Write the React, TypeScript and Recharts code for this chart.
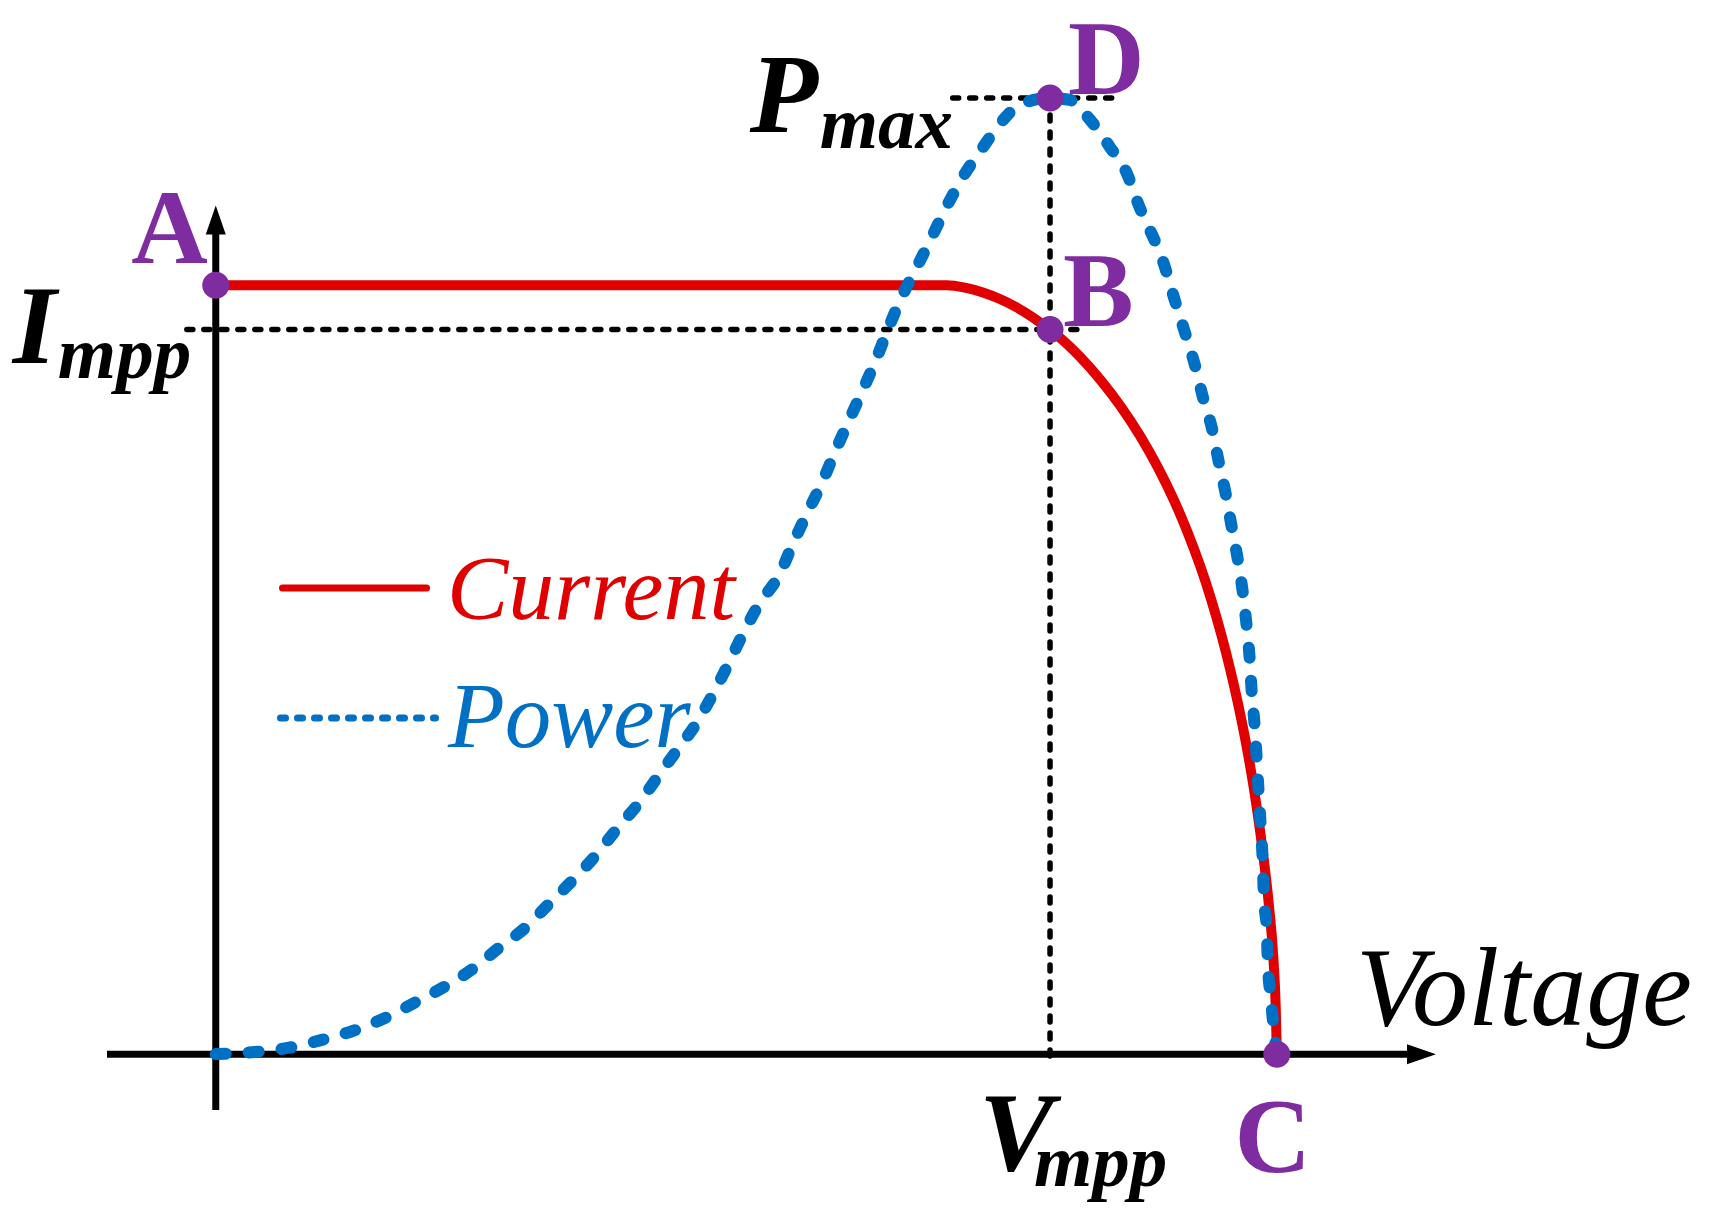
import React from "react"
import { LineChart, Line, XAxis, YAxis, ReferenceLine, ReferenceDot, Legend } from "recharts"

// I-V curve (voltage in V, current in A)
const IV_VOLTAGE = [
  0, 27.56, 28.24, 28.92, 29.56, 30.2, 30.8, 31.4, 31.89, 32.57, 33.33, 34.1, 34.85, 35.53, 36.12, 36.64, 37.12,
  37.53, 37.91, 38.25, 38.55, 38.81, 39.04, 39.24, 39.49, 39.71, 39.87, 39.96, 40,
]
const IV_CURRENT = [
  8, 8, 7.975, 7.925, 7.857, 7.769, 7.667, 7.547, 7.439, 7.259, 7.023, 6.746, 6.431, 6.098, 5.765, 5.427, 5.072,
  4.726, 4.361, 3.994, 3.631, 3.277, 2.923, 2.573, 2.065, 1.526, 0.998, 0.476, 0,
]

// P-V curve (voltage in V, power in W)
const PV_VOLTAGE = [
  0, 1.47, 2.71, 4.0, 5.16, 6.37, 7.46, 8.6, 9.69, 10.67, 11.65, 12.59, 13.46, 14.33, 15.12, 15.95, 16.66, 17.42, 18.13, 18.7,
  20.51, 21.26, 21.75, 22.28, 22.85, 23.34, 23.86, 24.39, 24.88, 25.33, 25.86, 26.43, 26.99, 27.56, 28.16, 28.88, 29.56, 30.31,
  31.45, 32.2, 32.87, 33.7, 34.34, 34.76, 35.78, 36.15, 36.53, 36.91, 37.21, 37.55, 37.81, 38.08, 38.3, 38.53, 38.72, 38.87,
  38.98, 39.06, 39.17, 39.25, 39.32, 39.4, 39.47, 39.51, 39.62, 39.66, 39.77, 39.89, 40,
]
const PV_POWER = [
  0, 0.5, 1.5, 3.5, 5.7, 8.9, 12.6, 16.6, 21.1, 26.3, 31.2, 37.4, 43.1, 49.3, 55.8, 62.2, 68.7, 75.6, 82.1, 88.7,
  111.8, 119.0, 126.4, 133.9, 141.6, 149.2, 156.9, 164.6, 172.0, 179.5, 187.7, 195.1, 202.5, 210.2, 217.4, 224.4, 230.6, 235.3,
  237.0, 236.5, 232.3, 224.9, 218.4, 211.0, 195.1, 186.9, 179.0, 170.8, 162.9, 155.2, 146.8, 138.6, 130.6, 122.5, 114.3, 105.6,
  97.7, 89.0, 80.8, 72.1, 64.2, 55.8, 47.4, 38.9, 30.7, 22.6, 14.1, 5.9, 0,
]

const V_MPP = 31.45
const I_MPP = 7.54
const P_MAX = 237
const V_OC = 40
const I_SC = 8

const currentData = IV_VOLTAGE.map((v, k) => ({ v, i: IV_CURRENT[k] }))
const powerData = PV_VOLTAGE.map((v, k) => ({ v, p: PV_POWER[k] }))

const FONT = '"Liberation Serif", "Times New Roman", serif'
const RED = "#E00000"
const BLUE = "#0070C4"
const PURPLE = "#7F2CA0"

const X_DOMAIN: [number, number] = [-4.1, 46]
const I_DOMAIN: [number, number] = [-0.58, 10.76]
const P_DOMAIN: [number, number] = [-13.88, 256.33]

const xArrow = (props: any) => {
  const { x1, y1, x2 } = props
  return (
    <g>
      <line x1={x1} y1={y1} x2={x2 - 20} y2={y1} stroke="#000" strokeWidth={7} />
      <polygon points={`${x2},${y1} ${x2 - 29},${y1 - 10} ${x2 - 29},${y1 + 10}`} fill="#000" />
    </g>
  )
}

const yArrow = (props: any) => {
  const { x1, y1, y2 } = props
  return (
    <g>
      <line x1={x1} y1={y1} x2={x1} y2={y2 + 20} stroke="#000" strokeWidth={7} />
      <polygon points={`${x1},${y2} ${x1 - 10},${y2 + 29} ${x1 + 10},${y2 + 29}`} fill="#000" />
    </g>
  )
}

const dotted = (props: any) => (
  <line x1={props.x1} y1={props.y1} x2={props.x2} y2={props.y2} stroke="#000" strokeWidth={5.5}
    strokeDasharray="6 11" strokeLinecap="round" />
)

const pointLabel = (text: string, dx: number, dy: number, anchor: "start" | "middle" | "end" = "start") => (props: any) => {
  const { x, y, width, height } = props.viewBox
  return (
    <text x={x + width / 2 + dx} y={y + height / 2 + dy} textAnchor={anchor} fill={PURPLE}
      style={{ fontFamily: FONT, fontWeight: "bold", fontSize: 106 }}>
      {text}
    </text>
  )
}

const subLabel = (main: string, sub: string, mx: number, my: number, sx: number, sy: number, fromBottom = false) => (props: any) => {
  const { x, y, height } = props.viewBox
  const by = fromBottom ? y + height : y
  return (
    <g style={{ fontFamily: FONT, fontWeight: "bold", fontStyle: "italic" }} fill="#000">
      <text x={x + mx} y={by + my} style={{ fontSize: 112 }}>{main}</text>
      <text x={x + sx} y={by + sy} style={{ fontSize: 75 }}>{sub}</text>
    </g>
  )
}

const voltageLabel = (props: any) => {
  const { x, y, width } = props.viewBox
  return (
    <text x={x + width - 80} y={y - 29} fill="#000" style={{ fontFamily: FONT, fontStyle: "italic", fontSize: 112 }}>
      Voltage
    </text>
  )
}

const renderLegend = (props: any) => {
  const payload = props.payload || []
  return (
    <svg width={600} height={260} style={{ overflow: "visible", display: "block" }}>
      {payload.map((e: any, k: number) => {
        const cy = k === 0 ? 48 : 178
        const dashed = k !== 0
        return (
          <g key={e.value}>
            <line x1={dashed ? 10.5 : 12.5} x2={dashed ? 165.5 : 156.5} y1={cy} y2={cy} stroke={e.color}
              strokeWidth={7} strokeLinecap="round" strokeDasharray={dashed ? "5 12" : undefined} />
            <text x={dashed ? 178 : 177} y={cy + (dashed ? 29 : 31)} fill={e.color}
              style={{ fontFamily: FONT, fontStyle: "italic", fontSize: dashed ? 93 : 92 }}>
              {e.value}
            </text>
          </g>
        )
      })}
    </svg>
  )
}

export default function App() {
  return (
    <div style={{ position: "absolute", left: 0, top: 0, width: 1712, height: 1220, background: "#fff" }}>
      <LineChart width={1712} height={1220} margin={{ top: 20, right: 276, bottom: 110, left: 107 }}>
        <XAxis type="number" dataKey="v" domain={X_DOMAIN} hide allowDataOverflow />
        <YAxis yAxisId="i" type="number" domain={I_DOMAIN} hide allowDataOverflow />
        <YAxis yAxisId="p" type="number" domain={P_DOMAIN} hide allowDataOverflow orientation="right" />

        <ReferenceLine yAxisId="i" ifOverflow="visible" segment={[{ x: X_DOMAIN[0], y: 0 }, { x: X_DOMAIN[1], y: 0 }]}
          shape={xArrow} label={voltageLabel} />
        <ReferenceLine yAxisId="i" ifOverflow="visible" segment={[{ x: 0, y: I_DOMAIN[0] }, { x: 0, y: 8.83 }]}
          shape={yArrow} />

        <ReferenceLine yAxisId="i" ifOverflow="visible" segment={[{ x: -1.09, y: I_MPP }, { x: 32.87, y: I_MPP }]}
          shape={dotted} label={subLabel("I", "mpp", -174, 33, -129, 48)} />
        <ReferenceLine yAxisId="p" ifOverflow="visible" segment={[{ x: 27.78, y: P_MAX }, { x: 33.89, y: P_MAX }]}
          shape={dotted} label={subLabel("P", "max", -203, 34, -133, 50)} />
        <ReferenceLine yAxisId="p" ifOverflow="visible" segment={[{ x: V_MPP, y: P_MAX }, { x: V_MPP, y: -2.23 }]}
          shape={dotted} label={subLabel("V", "mpp", -71, 107, -16, 123, true)} />

        <Line yAxisId="i" data={currentData} dataKey="i" name="Current" type="monotone" stroke={RED}
          strokeWidth={10} dot={false} activeDot={false} isAnimationActive={false} />
        <Line yAxisId="p" data={powerData} dataKey="p" name="Power" type="monotone" stroke={BLUE}
          strokeWidth={12} strokeDasharray="10 23" strokeLinecap="round" dot={false} activeDot={false}
          isAnimationActive={false} />

        <ReferenceDot yAxisId="i" x={0} y={I_SC} r={13.5} fill={PURPLE} stroke="none" ifOverflow="visible"
          label={pointLabel("A", -8, -22, "end")} />
        <ReferenceDot yAxisId="i" x={V_MPP} y={I_MPP} r={13.5} fill={PURPLE} stroke="none" ifOverflow="visible"
          label={pointLabel("B", 13, -4)} />
        <ReferenceDot yAxisId="i" x={V_OC} y={0} r={13.5} fill={PURPLE} stroke="none" ifOverflow="visible"
          label={pointLabel("C", -4, 118, "middle")} />
        <ReferenceDot yAxisId="p" x={V_MPP} y={P_MAX} r={13.5} fill={PURPLE} stroke="none" ifOverflow="visible"
          label={pointLabel("D", 18, -4)} />

        <Legend layout="horizontal" align="center" verticalAlign="middle" content={renderLegend}
          wrapperStyle={{ left: 270, top: 540, width: 600, height: 260 }} />
      </LineChart>
    </div>
  )
}
